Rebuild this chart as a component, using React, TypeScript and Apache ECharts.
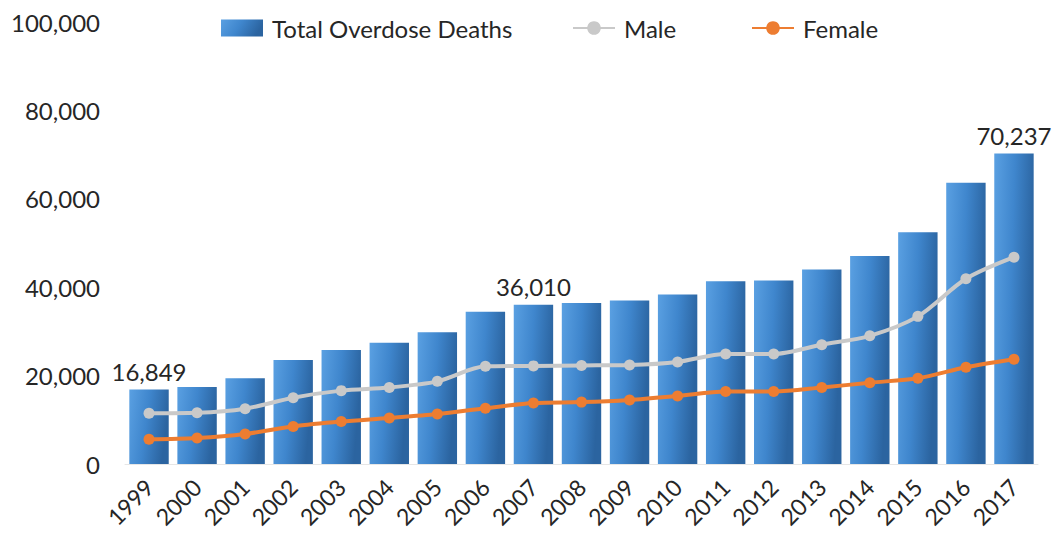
import React, { useEffect, useRef } from "react";
import * as echarts from "echarts";

const years = ["1999","2000","2001","2002","2003","2004","2005","2006","2007","2008","2009","2010","2011","2012","2013","2014","2015","2016","2017"];
const totalDeaths = [16849,17415,19394,23518,25785,27424,29813,34425,36010,36450,37004,38329,41340,41502,43982,47055,52404,63632,70237];
const maleDeaths = [11500,11600,12500,15000,16600,17300,18700,22100,22200,22300,22400,23100,24900,24900,27000,29000,33400,41900,46800];
const femaleDeaths = [5600,5900,6800,8500,9600,10400,11300,12600,13800,14000,14500,15400,16400,16400,17300,18400,19400,21900,23700];
const labeledYears = ["1999","2007","2017"];
const yTicks = { min: 0, max: 100000, interval: 20000 };

const FONT = "Lato, 'Open Sans', sans-serif";
const TEXT = "#262626";

export default function App() {
  const ref = useRef<HTMLDivElement>(null);
  useEffect(() => {
    document.body.style.margin = "0";
    if (!ref.current) return;
    const chart = echarts.init(ref.current, undefined, { renderer: "svg" });
    const barGradient = new echarts.graphic.LinearGradient(0, 0, 1, 0.25, [
      { offset: 0, color: "#5aa0e2" },
      { offset: 0.5, color: "#3f86cd" },
      { offset: 1, color: "#2b64a0" },
    ]);
    const legendBase = {
      top: 11,
      itemWidth: 42,
      itemHeight: 17,
      textStyle: { fontSize: 24, color: TEXT, fontFamily: FONT, padding: [0, 0, 0, 4] },
    };
    chart.setOption({
      animation: false,
      textStyle: { fontFamily: FONT },
      grid: { left: 125, right: 17, top: 22, bottom: 77, containLabel: false },
      legend: [
        { ...legendBase, left: 216, data: [{ name: "Total Overdose Deaths", icon: "rect" }] },
        { ...legendBase, left: 567, data: [{ name: "Male" }] },
        { ...legendBase, left: 746, data: [{ name: "Female" }] },
      ],
      xAxis: {
        type: "category",
        data: years,
        axisTick: { show: false },
        axisLine: { show: true, lineStyle: { color: "#e6e6e6", width: 1 } },
        axisLabel: { rotate: 45, fontSize: 23, color: TEXT, margin: 19, fontFamily: FONT },
      },
      yAxis: {
        type: "value",
        min: yTicks.min,
        max: yTicks.max,
        interval: yTicks.interval,
        splitLine: { show: false },
        axisLine: { show: false },
        axisTick: { show: false },
        axisLabel: {
          fontSize: 24,
          color: TEXT,
          margin: 25,
          fontFamily: FONT,
          formatter: (v: number) => v.toLocaleString("en-US"),
        },
      },
      series: [
        {
          name: "Total Overdose Deaths",
          type: "bar",
          barCategoryGap: "18%",
          itemStyle: { color: barGradient },
          data: totalDeaths.map((v, i) => ({
            value: v,
            label: {
              show: labeledYears.includes(years[i]),
              position: "top",
              distance: 6,
              fontSize: 24,
              color: TEXT,
              fontFamily: FONT,
              formatter: (p: any) => Number(p.value).toLocaleString("en-US"),
            },
          })),
        },
        {
          name: "Male",
          type: "line",
          smooth: 0.3,
          data: maleDeaths,
          symbol: "circle",
          symbolSize: 11,
          lineStyle: { color: "#c9c9c9", width: 4 },
          itemStyle: { color: "#c9c9c9" },
        },
        {
          name: "Female",
          type: "line",
          smooth: 0.3,
          data: femaleDeaths,
          symbol: "circle",
          symbolSize: 11,
          lineStyle: { color: "#ed7d31", width: 4 },
          itemStyle: { color: "#ed7d31" },
        },
      ],
    });
    return () => chart.dispose();
  }, []);
  return <div ref={ref} style={{ width: 1055, height: 541 }} />;
}
